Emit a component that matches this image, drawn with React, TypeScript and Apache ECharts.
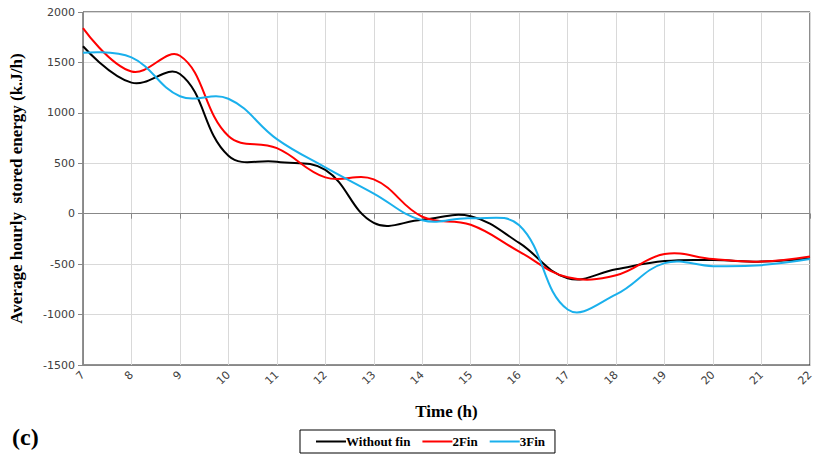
import React, { useEffect, useRef } from "react";
import * as echarts from "echarts";

const hours = [7, 8, 9, 10, 11, 12, 13, 14, 15, 16, 17, 18, 19, 20, 21, 22];
const withoutFin = [1660, 1300, 1385, 575, 515, 435, -90, -60, -25, -290, -640, -550, -470, -460, -475, -445];
const fin2 = [1840, 1410, 1566, 770, 650, 360, 340, -30, -110, -375, -630, -610, -400, -450, -475, -425];
const fin3 = [1595, 1550, 1165, 1140, 740, 460, 200, -65, -45, -115, -950, -800, -490, -520, -510, -450];
const yTicks = [-1500, -1000, -500, 0, 500, 1000, 1500, 2000];

const serif = "'Liberation Serif', 'Times New Roman', serif";
const sans = "'DejaVu Sans', Verdana, sans-serif";

export default function App() {
  const ref = useRef<HTMLDivElement>(null);
  useEffect(() => {
    if (!ref.current) return;
    const chart = echarts.init(ref.current, undefined, { renderer: "svg" });
    const mk = (arr: number[]) => hours.map((h, i) => [h, arr[i]]);
    const curveSeries = (name: string, data: number[], color: string) => ({
      name,
      type: "custom",
      data: mk(data),
      itemStyle: { color },
      renderItem: (params: any, api: any) => {
        if (params.dataIndex !== 0) return null;
        const pts = hours.map((h, i) => api.coord([h, data[i]]));
        return {
          type: "polyline",
          shape: { points: pts, smooth: 0.4 },
          style: { stroke: color, lineWidth: 2, fill: null },
          silent: true,
        };
      },
    });
    chart.setOption({
      animation: false,
      backgroundColor: "#fff",
      grid: {
        left: 78,
        right: 3,
        top: 12,
        bottom: 99,
        show: true,
        borderColor: "#222",
        borderWidth: 1,
      },
      xAxis: [
        {
          type: "value",
          min: 7,
          max: 22,
          interval: 1,
          name: "Time (h)",
          nameLocation: "middle",
          nameGap: 38,
          nameTextStyle: { fontFamily: serif, fontWeight: "bold", fontSize: 17, color: "#000" },
          axisLine: { show: true, onZero: false, lineStyle: { color: "#888" } },
          axisTick: { show: false },
          axisLabel: { rotate: 45, fontFamily: sans, fontSize: 11, color: "#404040", margin: 8 },
          splitLine: { show: true, lineStyle: { color: "#d9d9d9" } },
        },
        {
          type: "value",
          min: 7,
          max: 22,
          interval: 1,
          position: "bottom",
          axisLine: { show: true, onZero: true, lineStyle: { color: "#888" } },
          axisTick: { show: true, length: 5, lineStyle: { color: "#888" } },
          axisLabel: { show: false },
          splitLine: { show: false },
        },
      ],
      yAxis: {
        type: "value",
        min: yTicks[0],
        max: yTicks[yTicks.length - 1],
        interval: 500,
        name: "Average hourly  stored energy (k.J/h)",
        nameLocation: "middle",
        nameGap: 58,
        nameTextStyle: { fontFamily: serif, fontWeight: "bold", fontSize: 17, color: "#000" },
        axisLine: { show: true, lineStyle: { color: "#888" } },
        axisTick: { show: true, length: 5, lineStyle: { color: "#888" } },
        axisLabel: {
          fontFamily: sans,
          fontSize: 11,
          color: "#404040",
          margin: 8,
          formatter: (v: number) => String(v),
        },
        splitLine: { show: true, lineStyle: { color: "#d9d9d9" } },
      },
      legend: {
        left: 300,
        top: 430,
        width: 262,
        height: 23,
        padding: [5, 10, 5, 16],
        itemGap: 12,
        borderColor: "#000",
        borderWidth: 1,
        icon: "rect",
        itemWidth: 30,
        itemHeight: 2,
        textStyle: { fontFamily: serif, fontWeight: "bold", fontSize: 13, color: "#000", padding: [0, 0, 0, -5] },
        data: ["Without fin", "2Fin", "3Fin"],
      },
      graphic: [
        {
          type: "text",
          left: 12,
          top: 425,
          style: { text: "(c)", fontFamily: serif, fontWeight: "bold", fontSize: 24, fill: "#000" },
        },
      ],
      series: [
        curveSeries("Without fin", withoutFin, "#000000"),
        curveSeries("2Fin", fin2, "#ff0000"),
        curveSeries("3Fin", fin3, "#1ab0ec"),
      ],
    });
    return () => chart.dispose();
  }, []);
  return <div ref={ref} style={{ width: 816, height: 464, position: "absolute", left: 0, top: 0 }} />;
}
